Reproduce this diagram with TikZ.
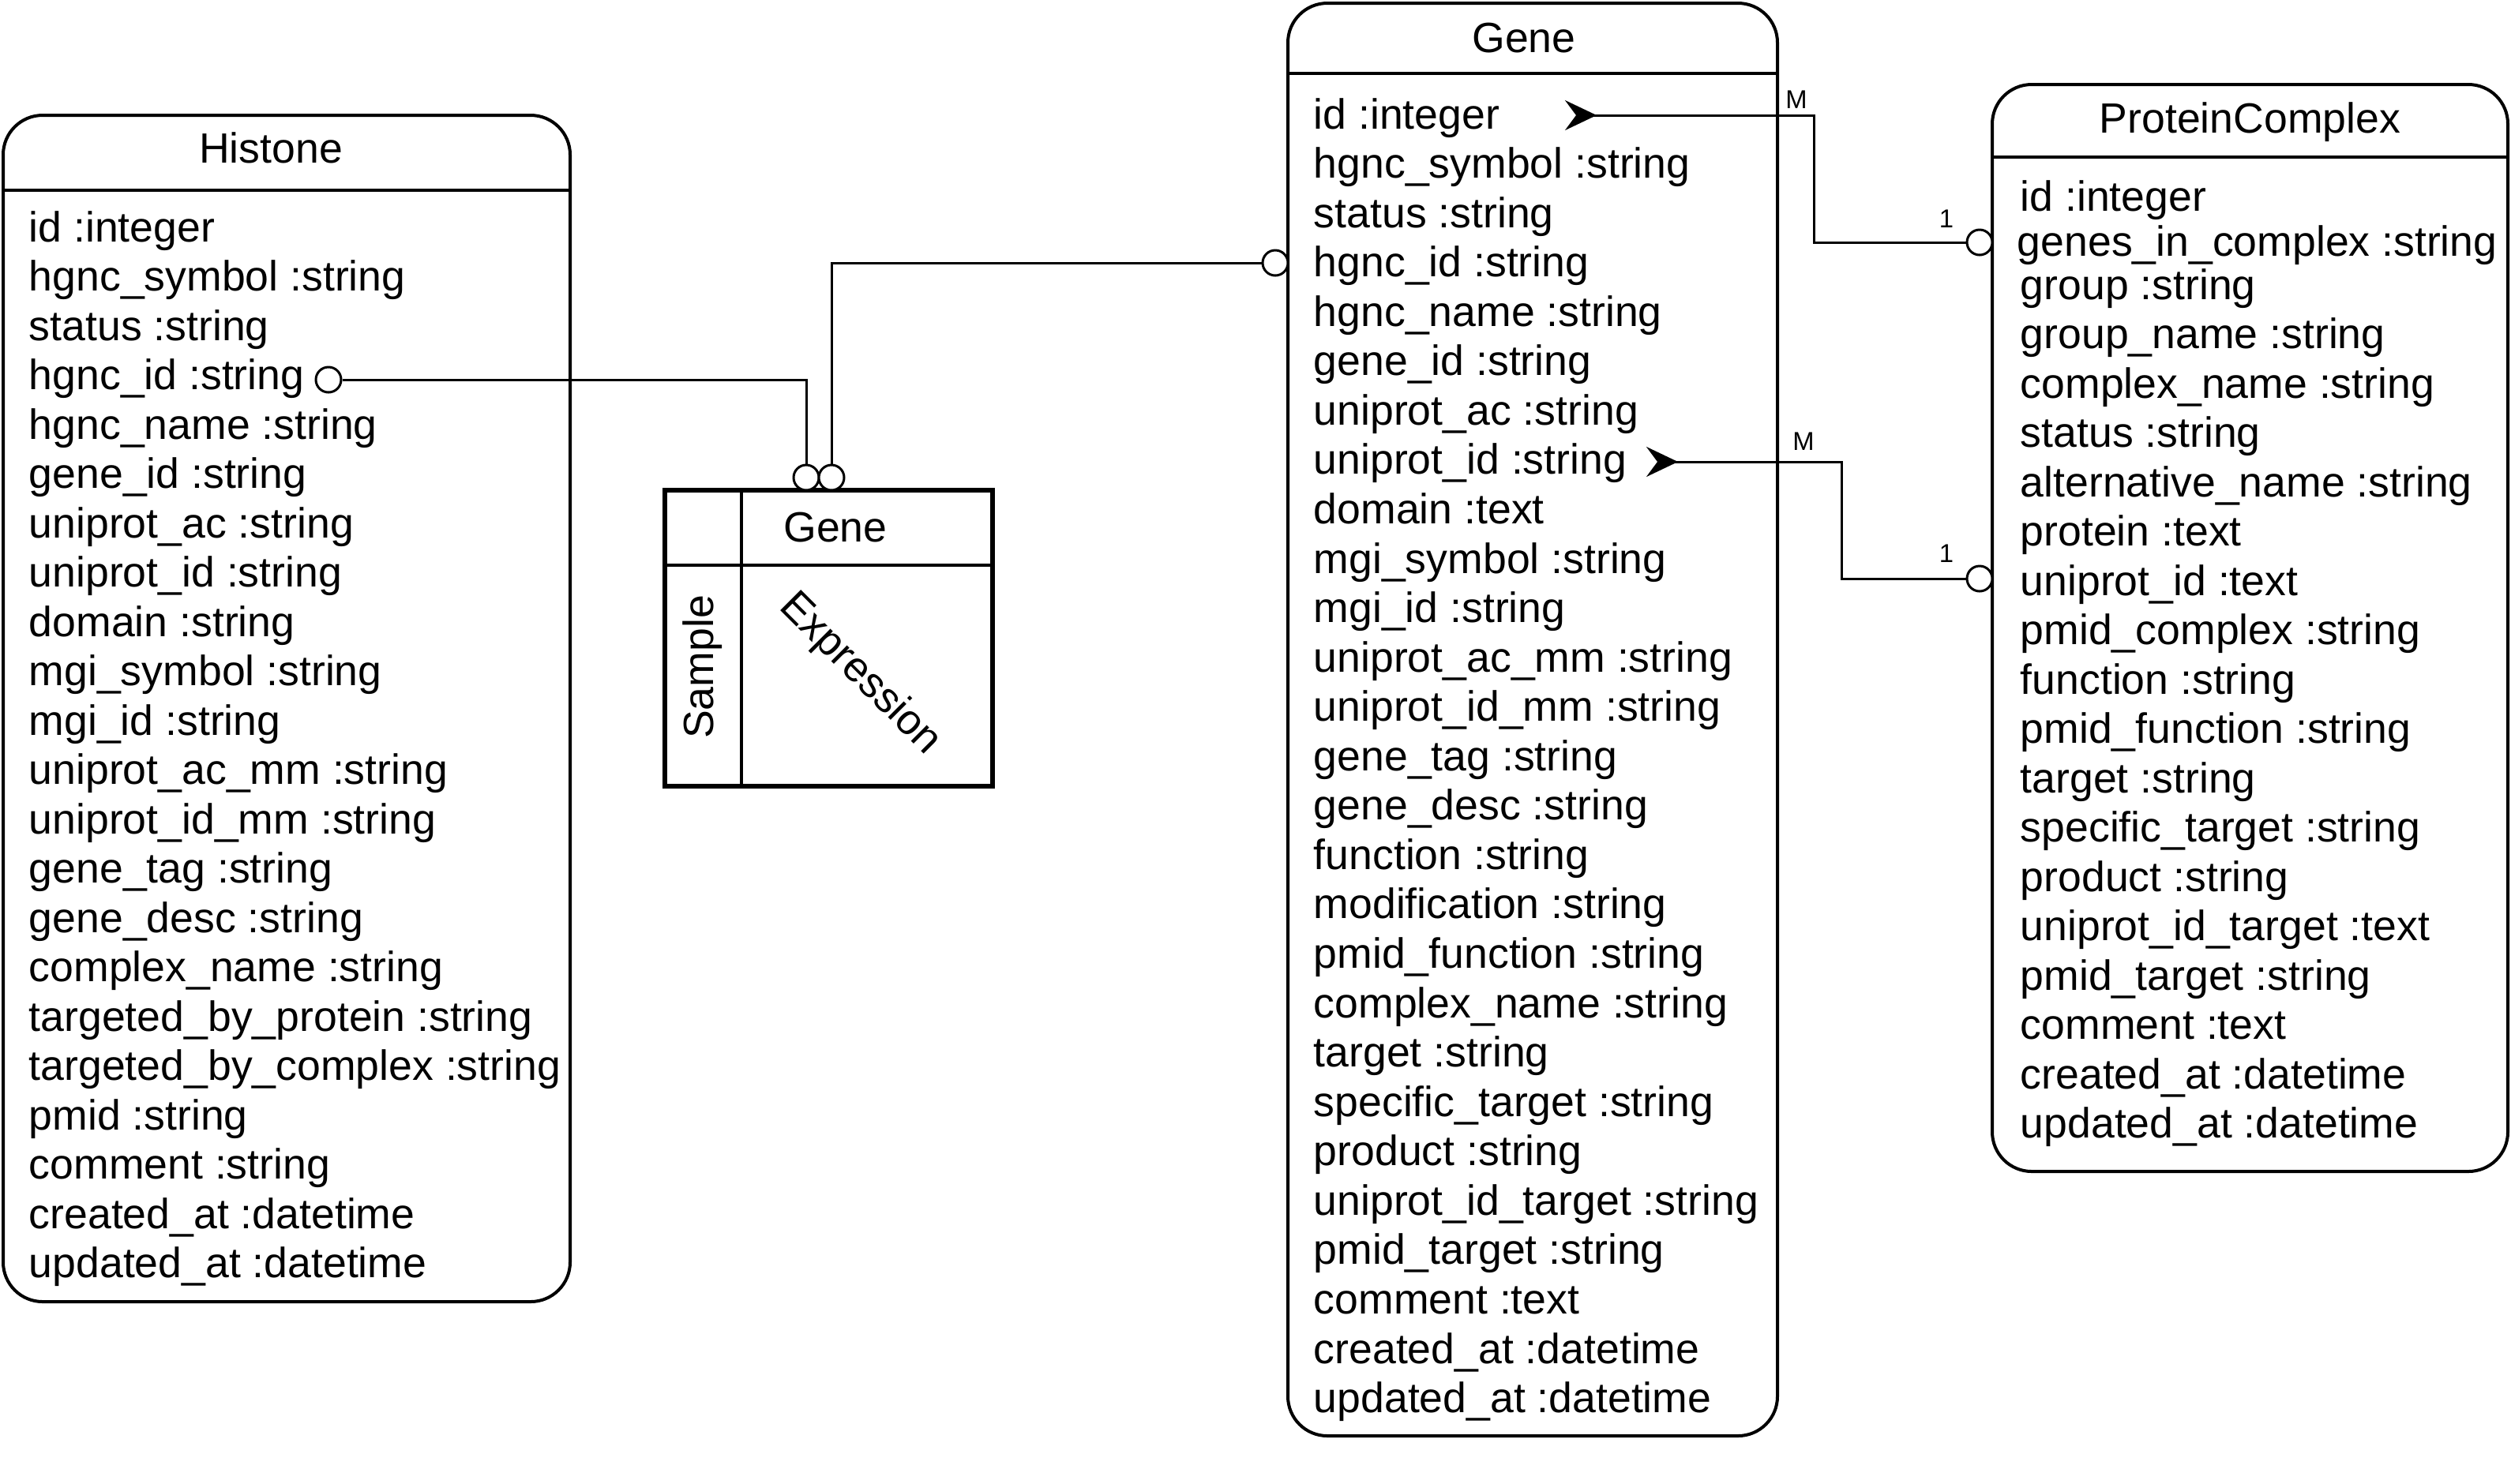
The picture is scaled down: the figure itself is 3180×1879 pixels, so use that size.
\documentclass[tikz,border=0pt]{standalone}
\usepackage{fontspec}
\setmainfont{Liberation Sans}
\usetikzlibrary{arrows.meta,positioning}
\newcommand{\attrfont}{\fontsize{13.4pt}{16pt}\selectfont}
\newcommand{\cardfont}{\fontsize{8.2pt}{10pt}\selectfont}
\tikzset{
  entity/.style={draw,line width=1pt,rounded corners=12.5pt,inner sep=0pt},
  attr/.style={anchor=base west,inner sep=0pt,font=\attrfont},
  etitle/.style={anchor=base,inner sep=0pt,font=\attrfont},
  grid/.style={draw,line width=1.5pt,inner sep=0pt},
  zero/.style={circle,draw,line width=0.75pt,fill=white,inner sep=0pt,minimum size=8pt},
  link/.style={line width=0.75pt},
  many/.style={link,{Stealth[length=10pt,width=9.5pt,inset=3.5pt,reversed]}-},
  card/.style={anchor=base,inner sep=0pt,font=\cardfont},
}

\begin{document}
\begin{tikzpicture}[x=0.25pt,y=-0.25pt]
  \useasboundingbox (0,0) rectangle (3180,1879);
  % tables
  \node[entity,minimum width=179.5pt,minimum height=375.75pt] (hist) at (363,897.5) {};
  \node[entity,minimum width=155pt,minimum height=453.75pt] (gene) at (1941,911.5) {};
  \node[entity,minimum width=163.25pt,minimum height=344.25pt] (cplx) at (2849.5,795.5) {};
  \draw[line width=1pt] (4,241) -- (722,241);
  \draw[line width=1pt] (1631,93) -- (2251,93);
  \draw[line width=1pt] (2523,199) -- (3176,199);
  \node[etitle] (hist-t) at (343,206) {Histone};
  \node[etitle] (gene-t) at (1930,66) {Gene};
  \node[etitle] (cplx-t) at (2849.5,168) {ProteinComplex};

  \foreach \t [count=\i] in {id :integer, hgnc\_symbol :string, status :string,
      hgnc\_id :string, hgnc\_name :string, gene\_id :string, uniprot\_ac :string,
      uniprot\_id :string, domain :string, mgi\_symbol :string, mgi\_id :string,
      uniprot\_ac\_mm :string, uniprot\_id\_mm :string, gene\_tag :string,
      gene\_desc :string, complex\_name :string, targeted\_by\_protein :string,
      targeted\_by\_complex :string, pmid :string, comment :string,
      created\_at :datetime, updated\_at :datetime}
    \node[attr] (hist-\i) at (36,{243.5+62.5*\i}) {\t};

  \foreach \t [count=\i] in {id :integer, hgnc\_symbol :string, status :string,
      hgnc\_id :string, hgnc\_name :string, gene\_id :string, uniprot\_ac :string,
      uniprot\_id :string, domain :text, mgi\_symbol :string, mgi\_id :string,
      uniprot\_ac\_mm :string, uniprot\_id\_mm :string, gene\_tag :string,
      gene\_desc :string, function :string, modification :string,
      pmid\_function :string, complex\_name :string, target :string,
      specific\_target :string, product :string, uniprot\_id\_target :string,
      pmid\_target :string, comment :text, created\_at :datetime,
      updated\_at :datetime}
    \node[attr] (gene-\i) at (1663,{100.44+62.56*\i}) {\t};

  \node[attr] (cplx-1) at (2558,267) {id :integer};
  \node[attr] (cplx-2) at (2554,324) {genes\_in\_complex :string};
  \foreach \t [count=\i from 3] in {group :string, group\_name :string,
      complex\_name :string, status :string, alternative\_name :string,
      protein :text, uniprot\_id :text, pmid\_complex :string, function :string,
      pmid\_function :string, target :string, specific\_target :string,
      product :string, uniprot\_id\_target :text, pmid\_target :string,
      comment :text, created\_at :datetime, updated\_at :datetime}
    \node[attr] (cplx-\i) at (2558,{191.5+62.5*\i}) {\t};

  % sample x gene expression table
  \node[grid,minimum width=103.75pt,minimum height=93.75pt] (expr) at (1049.5,808.5) {};
  \draw[line width=1pt] (939,621) -- (939,996);
  \draw[line width=1pt] (842,716) -- (1257,716);
  \node[font=\attrfont] (expr-g) at (1058,668) {Gene};
  \node[font=\attrfont,rotate=90] (expr-s) at (890,845) {Sample};
  \node[font=\attrfont,rotate=-45] (expr-e) at (1089,854) {Expression};

  % links to the expression table
  \node[zero] (hz) at (416,481) {};
  \node[zero] (ez1) at (1021,605) {};
  \node[zero] (ez2) at (1053,605) {};
  \node[zero] (gz) at (1615,333) {};
  \draw[link] (hz.east) -| (ez1.north);
  \draw[link] (gz.west) -| (ez2.north);

  % gene -> protein complex
  \coordinate (gid) at (1982,146);
  \node[zero] (cz1) at (2507,307) {};
  \draw[many] (gid) -- ++(315,0) |- (cz1.west);
  \node[card] (m1) at (2275,137) {M};
  \node[card] (n1) at (2465,288) {1};

  \coordinate (guid) at (2085,585);
  \node[zero] (cz2) at (2507,733) {};
  \draw[many] (guid) -- ++(247,0) |- (cz2.west);
  \node[card] (m2) at (2284,570) {M};
  \node[card] (n2) at (2465,712) {1};
\end{tikzpicture}
\end{document}
